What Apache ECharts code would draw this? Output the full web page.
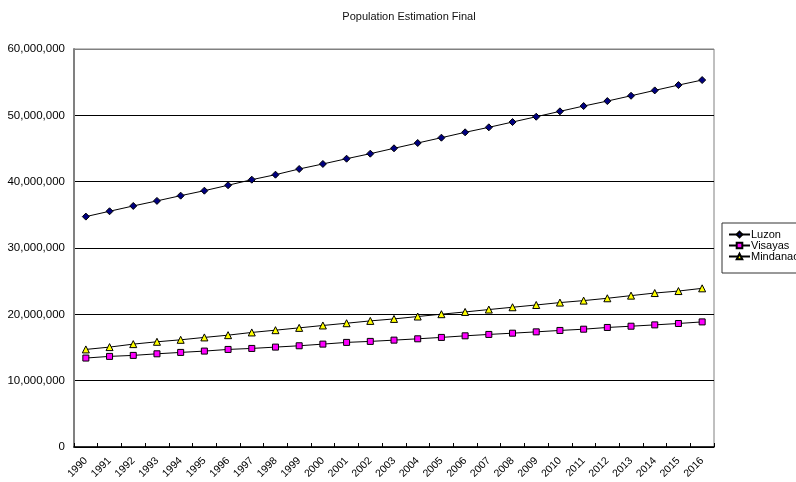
<!DOCTYPE html>
<html>
<head>
<meta charset="utf-8">
<script src="https://cdn.jsdelivr.net/npm/echarts@6/dist/echarts.min.js"></script>
<style>
  html, body { margin: 0; padding: 0; background: #fff; }
  #chart { width: 796px; height: 482px; }
</style>
</head>
<body>
<div id="chart"></div>
<script>
// Population estimates by island group, 1990-2016
const years = ['1990','1991','1992','1993','1994','1995','1996','1997','1998','1999',
  '2000','2001','2002','2003','2004','2005','2006','2007','2008','2009',
  '2010','2011','2012','2013','2014','2015','2016'];

const luzon = [34730000, 35540000, 36340000, 37100000, 37890000, 38640000, 39460000,
  40300000, 41050000, 41910000, 42670000, 43460000, 44220000, 45030000, 45830000,
  46630000, 47440000, 48190000, 48990000, 49790000, 50600000, 51400000, 52150000,
  52950000, 53760000, 54560000, 55320000];

const visayas = [13410000, 13660000, 13810000, 14050000, 14260000, 14460000, 14710000,
  14860000, 15060000, 15260000, 15510000, 15770000, 15920000, 16110000, 16310000,
  16520000, 16760000, 16970000, 17160000, 17360000, 17570000, 17760000, 18020000,
  18210000, 18410000, 18620000, 18860000];

const mindanao = [14710000, 15060000, 15510000, 15860000, 16160000, 16520000, 16860000,
  17270000, 17610000, 17960000, 18320000, 18660000, 19010000, 19310000, 19670000,
  20020000, 20360000, 20720000, 21070000, 21410000, 21770000, 22070000, 22420000,
  22820000, 23210000, 23510000, 23920000];

const yTicks = { min: 0, max: 60000000, interval: 10000000 };

const FONT = '"Liberation Sans", Arial, sans-serif';

function lineSeries(name, data, symbol, size, fill) {
  return {
    name: name,
    type: 'line',
    data: data,
    symbol: symbol,
    symbolSize: size,
    showAllSymbol: true,
    animation: false,
    lineStyle: { color: '#000', width: 1 },
    itemStyle: { color: fill, borderColor: '#000', borderWidth: 1 }
  };
}

const chart = echarts.init(document.getElementById('chart'), null, { renderer: 'canvas' });
chart.setOption({
  backgroundColor: '#fff',
  animation: false,
  title: {
    text: 'Population Estimation Final',
    left: 404,
    top: 6,
    textAlign: 'center',
    textStyle: { fontFamily: FONT, fontSize: 11, fontWeight: 'normal', color: '#111' }
  },
  legend: {
    orient: 'vertical',
    left: 722,
    top: 223,
    padding: [6, 6, 11, 6],
    itemWidth: 21,
    itemHeight: 7,
    itemGap: 0,
    borderColor: '#333',
    borderWidth: 1,
    borderRadius: 0,
    backgroundColor: '#fff',
    textStyle: { fontFamily: FONT, fontSize: 11, color: '#000', lineHeight: 10, padding: [0, 0, 0, -4] },
    data: ['Luzon', 'Visayas', 'Mindanao']
  },
  grid: {
    left: 74, right: 82, top: 49, bottom: 35,
    show: true,
    borderColor: '#808080',
    borderWidth: 1,
    containLabel: false
  },
  xAxis: {
    type: 'category',
    data: years,
    boundaryGap: true,
    axisLine: { lineStyle: { color: '#000', width: 1.5 } },
    axisTick: { show: true, inside: true, length: 4, alignWithLabel: false, lineStyle: { color: '#000' } },
    axisLabel: {
      interval: 0,
      rotate: 45,
      margin: 12,
      fontFamily: FONT,
      fontSize: 10.5,
      color: '#000'
    },
    splitLine: { show: false }
  },
  yAxis: {
    type: 'value',
    min: yTicks.min,
    max: yTicks.max,
    interval: yTicks.interval,
    axisLine: { show: true, lineStyle: { color: '#808080', width: 2 } },
    axisTick: { show: false },
    axisLabel: {
      margin: 9,
      fontFamily: FONT,
      fontSize: 11.5,
      color: '#000',
      formatter: v => v.toLocaleString('en-US')
    },
    splitLine: {
      show: true,
      lineStyle: { color: ['#000', '#000', '#000', '#000', '#000', '#000', '#808080'], width: 1 }
    }
  },
  series: [
    lineSeries('Luzon', luzon, 'diamond', 7, '#000080'),
    lineSeries('Visayas', visayas, 'rect', 6, '#FF00FF'),
    lineSeries('Mindanao', mindanao, 'triangle', 7, '#FFFF00')
  ]
});
</script>
</body>
</html>
